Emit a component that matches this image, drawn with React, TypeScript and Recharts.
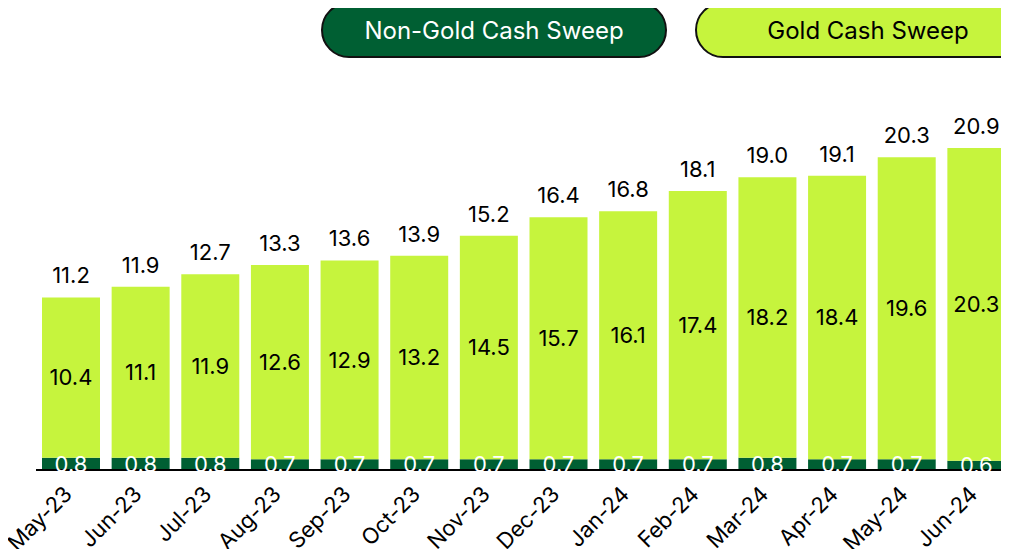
import { BarChart, Bar, XAxis, YAxis, LabelList } from "recharts";

const months = ["May-23", "Jun-23", "Jul-23", "Aug-23", "Sep-23", "Oct-23", "Nov-23", "Dec-23", "Jan-24", "Feb-24", "Mar-24", "Apr-24", "May-24", "Jun-24"];
const nonGold = [0.8, 0.8, 0.8, 0.7, 0.7, 0.7, 0.7, 0.7, 0.7, 0.7, 0.8, 0.7, 0.7, 0.6];
const gold = [10.4, 11.1, 11.9, 12.6, 12.9, 13.2, 14.5, 15.7, 16.1, 17.4, 18.2, 18.4, 19.6, 20.3];
const totals = [11.2, 11.9, 12.7, 13.3, 13.6, 13.9, 15.2, 16.4, 16.8, 18.1, 19.0, 19.1, 20.3, 20.9];

const DARK = "#005f33";
const LIME = "#c6f43d";
const FONT = "Inter, 'Liberation Sans', sans-serif";

const data = months.map((m, i) => ({
  month: m,
  nonGold: nonGold[i],
  gold: gold[i],
  total: totals[i],
}));

const fmt = (v: any) => Number(v).toFixed(1);

function MonthTick({ x, y, payload }: any) {
  const tx = x - 3;
  const ty = y + 12;
  return (
    <text
      x={tx}
      y={ty}
      textAnchor="end"
      dominantBaseline="central"
      transform={`rotate(-45, ${tx}, ${ty})`}
      fontSize={22}
      fontFamily={FONT}
      fill="#000"
    >
      {payload.value}
    </text>
  );
}

function Pill({ bg, color, left, width, label }: any) {
  return (
    <div
      style={{
        position: "absolute",
        left,
        top: 2,
        width,
        height: 56,
        boxSizing: "border-box",
        border: "2px solid #111",
        borderRadius: 28,
        background: bg,
        color,
        fontSize: 24,
        fontFamily: FONT,
        display: "flex",
        alignItems: "center",
        justifyContent: "center",
      }}
    >
      {label}
    </div>
  );
}

export default function App() {
  return (
    <div style={{ margin: -8, position: "relative", width: 1009, height: 557, overflow: "hidden" }}>
      <BarChart
        width={1009}
        height={557}
        data={data}
        margin={{ top: 131, right: -2, left: 36, bottom: 0 }}
      >
        <XAxis
          dataKey="month"
          height={87}
          tickLine={false}
          axisLine={{ stroke: "#000", strokeWidth: 2 }}
          tick={<MonthTick />}
          interval={0}
        />
        <YAxis hide domain={[0, 22]} />
        <Bar dataKey="nonGold" stackId="a" fill={DARK} barSize={58} isAnimationActive={false}>
          <LabelList
            dataKey="nonGold"
            position="center"
            formatter={fmt}
            fill="#fff"
            fontSize={22}
            fontFamily={FONT}
          />
        </Bar>
        <Bar dataKey="gold" stackId="a" fill={LIME} barSize={58} isAnimationActive={false}>
          <LabelList
            dataKey="gold"
            position="center"
            formatter={fmt}
            fill="#000"
            fontSize={22}
            fontFamily={FONT}
          />
          <LabelList
            dataKey="total"
            position="top"
            offset={14}
            formatter={fmt}
            fill="#000"
            fontSize={22}
            fontFamily={FONT}
          />
        </Bar>
      </BarChart>
      <Pill bg={DARK} color="#fff" left={321} width={346} label="Non-Gold Cash Sweep" />
      <Pill bg={LIME} color="#000" left={695} width={346} label="Gold Cash Sweep" />
    </div>
  );
}
